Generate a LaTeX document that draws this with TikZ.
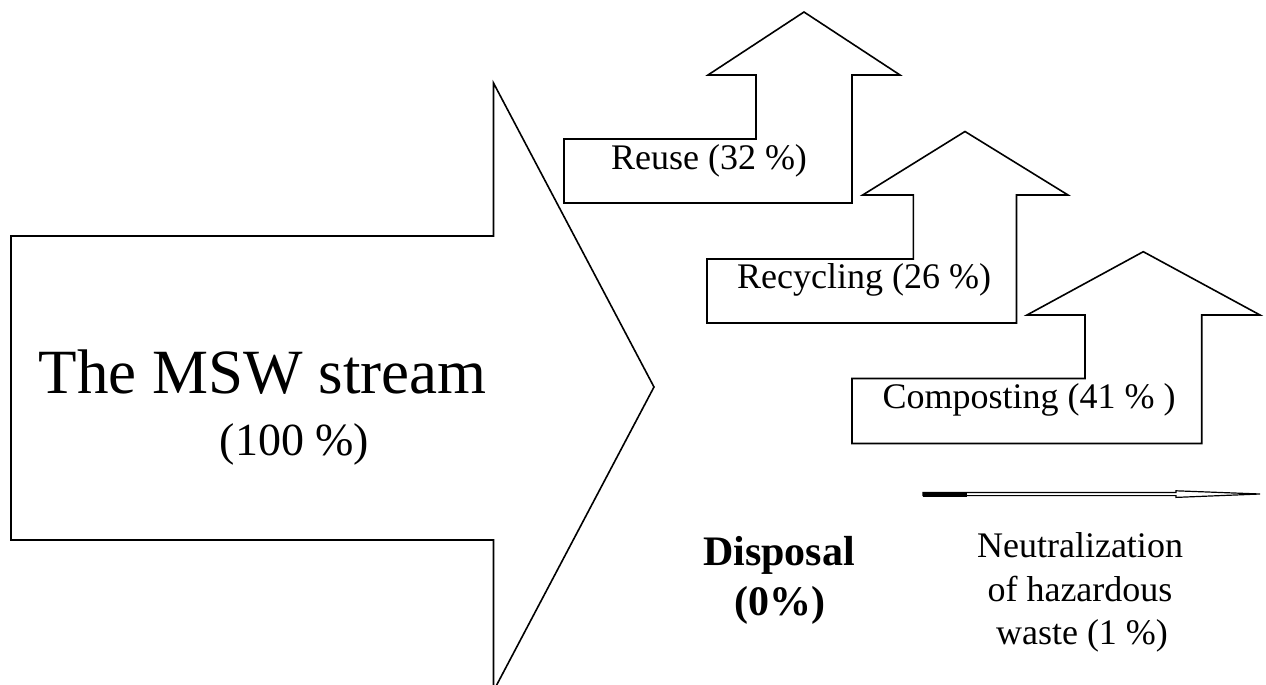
\documentclass[tikz,border=0pt]{standalone}
\usepackage{fontspec}
\setmainfont{Liberation Serif}
\begin{document}
\begin{tikzpicture}[x=0.5pt,y=-0.5pt,
  outline/.style={draw=black,line width=0.8pt,line join=miter},
  lbl/.style={inner sep=0pt,anchor=base,font=\fontsize{18}{21}\selectfont},
  bigtitle/.style={inner sep=0pt,anchor=base,font=\fontsize{31.5}{36}\selectfont},
  bigsub/.style={inner sep=0pt,anchor=base,font=\fontsize{23}{27}\selectfont},
  boldlbl/.style={inner sep=0pt,anchor=base,font=\fontsize{21}{25}\selectfont\bfseries}]
\useasboundingbox (0,0) rectangle (1266,685);

% the municipal solid waste stream (large right-pointing block arrow)
\begin{scope}
  \clip (0,0) rectangle (1266,685);
  \draw[outline] (11,236) -- (493.5,236) -- (493.5,83) -- (654,387)
    -- (493.5,691) -- (493.5,540) -- (11,540) -- cycle;
\end{scope}
\node[bigtitle] (msw) at (262.5,393.5) {The MSW stream};
\node[bigsub] (mswpct) at (294.5,455.7) {(100~\%)};

% reuse
\draw[outline] (564,203) -- (852,203) -- (852,75) -- (900,75) -- (804,12)
  -- (708,75) -- (756,75) -- (756,139) -- (564,139) -- cycle;
\node[lbl] (reuse) at (709,169) {Reuse (32 \%)};

% recycling
\draw[outline] (707,323) -- (1016.5,323) -- (1016.5,195) -- (1068,195) -- (965,131.5)
  -- (862.7,195) -- (913.3,195) -- (913.3,259) -- (707,259) -- cycle;
\node[lbl] (recycling) at (864,288.5) {Recycling (26 \%)};

% composting
\draw[outline] (852,443.5) -- (1201.7,443.5) -- (1201.7,315) -- (1260,315) -- (1143.3,251.7)
  -- (1027,315) -- (1085,315) -- (1085,378.5) -- (852,378.5) -- cycle;
\node[lbl] (composting) at (1029,408.5) {Composting (41 \% )};

% thin arrow for neutralization of hazardous waste
\fill[black] (923,491.7) rectangle (967,496.5);
\draw[line width=0.6pt,line join=miter] (923,492.4) -- (1176,492.4) -- (1176,490.8) -- (1260,494)
  -- (1176,497.4) -- (1176,495.6) -- (923,495.6) -- cycle;

% disposal
\node[boldlbl] (disp1) at (779,565) {Disposal};
\node[boldlbl] (disp2) at (780,615) {(0\%)};

% neutralization
\node[lbl] (neut1) at (1080,557) {Neutralization};
\node[lbl] (neut2) at (1080,601) {of hazardous};
\node[lbl] (neut3) at (1082,644) {waste (1 \%)};
\end{tikzpicture}
\end{document}
